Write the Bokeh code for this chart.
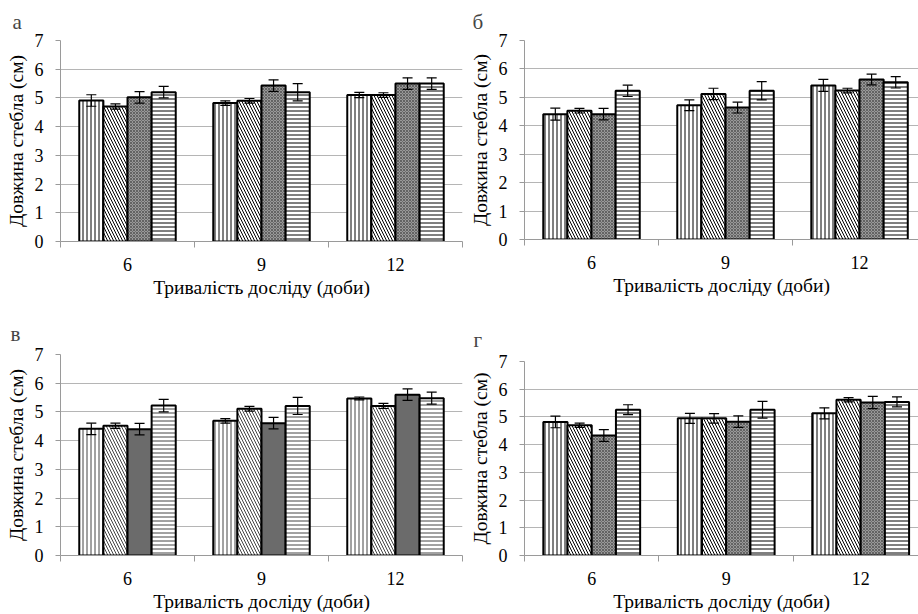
from bokeh.plotting import figure
from bokeh.layouts import column, row
from bokeh.models import (ColumnDataSource, Range1d, FixedTicker, Whisker, TeeHead)
from bokeh.transform import dodge
from bokeh.embed import file_html
from bokeh.resources import INLINE

# ---- data ----
days = ["6", "9", "12"]
y_ticks = [0, 1, 2, 3, 4, 5, 6, 7]
panel_letters = ["а", "б", "в", "г"]
x_title = "Тривалість досліду (доби)"
y_title = "Довжина стебла (см)"

# values: one list per series (bar pattern), across days 6, 9, 12
a_values = [[4.91, 4.82, 5.10], [4.70, 4.90, 5.10], [5.02, 5.43, 5.50], [5.20, 5.20, 5.50]]
a_errors = [[0.20, 0.08, 0.09], [0.09, 0.08, 0.08], [0.20, 0.20, 0.20], [0.20, 0.30, 0.20]]

b_values = [[4.41, 4.72, 5.42], [4.53, 5.12, 5.24], [4.41, 4.64, 5.63], [5.23, 5.23, 5.53]]
b_errors = [[0.21, 0.19, 0.21], [0.08, 0.20, 0.08], [0.20, 0.19, 0.19], [0.20, 0.32, 0.20]]

c_values = [[4.41, 4.69, 5.47], [4.52, 5.11, 5.21], [4.40, 4.61, 5.60], [5.22, 5.21, 5.48]]
c_errors = [[0.20, 0.08, 0.05], [0.09, 0.08, 0.09], [0.20, 0.20, 0.20], [0.22, 0.30, 0.21]]

d_values = [[4.82, 4.95, 5.13], [4.70, 4.95, 5.62], [4.33, 4.83, 5.52], [5.26, 5.26, 5.54]]
d_errors = [[0.21, 0.18, 0.20], [0.08, 0.17, 0.08], [0.21, 0.21, 0.22], [0.18, 0.30, 0.18]]

# ---- styling ----
FONT = "Liberation Serif, serif"
offsets = [-0.27, -0.09, 0.09, 0.27]
bar_w = 0.18


def series_styles(scan=False):
    hc = "#444444" if scan else "black"
    third = dict(fill_color="#6b6b6b", hatch_pattern=None) if scan else \
        dict(fill_color="#999999", hatch_pattern="diagonal_cross", hatch_color="#555555",
             hatch_scale=3, hatch_weight=0.8)
    return [
        dict(fill_color="white", hatch_pattern="vertical_line", hatch_color=hc, hatch_scale=4, hatch_weight=1),
        dict(fill_color="white", hatch_pattern="left_diagonal_line", hatch_color=hc, hatch_scale=6, hatch_weight=1),
        third,
        dict(fill_color="white", hatch_pattern="horizontal_line", hatch_color=hc, hatch_scale=4, hatch_weight=1),
    ]


def make_panel(letter, values, errors, width, height, left, right, top, bottom, x_end,
               title_offset, title_standoff, scan=False):
    p = figure(width=width, height=height, output_backend="svg", toolbar_location=None,
               x_range=Range1d(0, x_end), y_range=Range1d(0, 7),
               min_border_left=left, min_border_right=right,
               min_border_top=top, min_border_bottom=bottom)
    p.outline_line_color = None
    p.background_fill_color = "white"

    centers = [i + 0.5 for i in range(len(days))]
    styles = series_styles(scan)
    for k, (vals, errs) in enumerate(zip(values, errors)):
        src = ColumnDataSource(dict(
            x=centers, top=vals,
            upper=[v + e for v, e in zip(vals, errs)],
            lower=[v - e for v, e in zip(vals, errs)]))
        p.vbar(x=dodge("x", offsets[k], range=p.x_range), top="top", bottom=0, width=bar_w,
               source=src, line_color="black", line_width=2, **styles[k])
        wh = Whisker(base=dodge("x", offsets[k], range=p.x_range), upper="upper", lower="lower",
                     source=src, line_color="black", line_width=1.2,
                     upper_head=TeeHead(size=10, line_color="black", line_width=1.2),
                     lower_head=TeeHead(size=10, line_color="black", line_width=1.2))
        wh.level = "overlay"
        p.add_layout(wh)

    # x axis: labels at group centres, ticks at group borders
    p.xaxis.ticker = FixedTicker(ticks=centers, minor_ticks=[0, 1, 2, 3])
    p.xaxis.major_label_overrides = {c: d for c, d in zip(centers, days)}
    p.xaxis.major_tick_out = 0
    p.xaxis.major_tick_in = 0
    p.xaxis.minor_tick_out = 6
    p.xaxis.minor_tick_in = 0
    p.xaxis.minor_tick_line_color = "#9a9a9a"
    p.xaxis.axis_line_color = "#9a9a9a"
    p.xaxis.major_label_standoff = 10
    p.xaxis.axis_label = x_title
    p.xaxis.axis_label_standoff = 3
    p.xgrid.grid_line_color = None

    p.yaxis.ticker = FixedTicker(ticks=y_ticks)
    p.yaxis.major_tick_out = 5
    p.yaxis.major_tick_in = 0
    p.yaxis.minor_tick_line_color = None
    p.yaxis.major_tick_line_color = "#9a9a9a"
    p.yaxis.axis_line_color = "#9a9a9a"
    p.yaxis.major_label_standoff = 12
    p.yaxis.axis_label = y_title
    p.yaxis.axis_label_standoff = 5
    p.ygrid.grid_line_color = "#b5b5b5"
    p.ygrid.grid_line_width = 1

    for ax in (p.xaxis[0], p.yaxis[0]):
        ax.major_label_text_font = FONT
        ax.major_label_text_font_size = "18px"
        ax.major_label_text_color = "black"
        ax.axis_label_text_font = FONT
        ax.axis_label_text_font_size = "19.5px"
        ax.axis_label_text_font_style = "normal"
        ax.axis_label_text_color = "black"

    p.title.text = letter
    p.title.text_font = FONT
    p.title.text_font_size = "21px"
    p.title.text_font_style = "normal"
    p.title.align = "left"
    p.title.offset = title_offset
    p.title.standoff = title_standoff
    return p


pa = make_panel(panel_letters[0], a_values, a_errors, 466, 302, 60, 4, 38, 61, 3.0, -48, 14)
pb = make_panel(panel_letters[1], b_values, b_errors, 452, 302, 55, 0, 38, 63, 2.94, -52, 14)
pc = make_panel(panel_letters[2], c_values, c_errors, 466, 312, 60, 4, 52, 57, 3.0, -50, 18, scan=True)
pd_ = make_panel(panel_letters[3], d_values, d_errors, 452, 312, 56, 0, 59, 57, 2.93, -51, 19)

layout = column(row(column(pa), column(pb)), row(column(pc), column(pd_)))
open("out.html", "w").write(file_html(layout, INLINE))
